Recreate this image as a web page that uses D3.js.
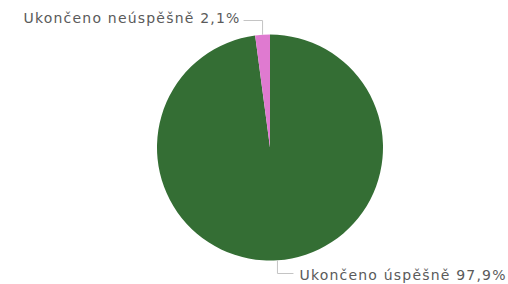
<!DOCTYPE html>
<html>
<head>
<meta charset="utf-8">
<script src="https://cdn.jsdelivr.net/npm/d3@7"></script>
<style>
  html, body { margin: 0; padding: 0; background: #fff; }
  svg { display: block; }
</style>
</head>
<body>
<svg id="chart"></svg>
<script>
(function() {
  'use strict';

  // Data
  let labels = ['Ukončeno úspěšně', 'Ukončeno neúspěšně'];
  let values = [97.9, 2.1];
  let colors = ['#346e34', '#df7ad0'];

  let width = 508;
  let height = 284;
  let cx = 270, cy = 147.5, radius = 113;

  let svg = d3.select('#chart')
    .attr('width', width)
    .attr('height', height);

  let data = labels.map((l, i) => ({ label: l, value: values[i], color: colors[i] }));

  let pie = d3.pie().sort(null).value(d => d.value);
  let arc = d3.arc().innerRadius(0).outerRadius(radius);

  let g = svg.append('g')
    .attr('transform', 'translate(' + cx + ',' + cy + ')');

  let arcs = pie(data);

  g.selectAll('path')
    .data(arcs)
    .enter()
    .append('path')
    .attr('d', arc)
    .attr('fill', d => d.data.color);

  // Leader lines + labels
  let fmt = v => d3.format('.1f')(v).replace('.', ',') + '%';

  arcs.forEach(d => {
    let mid = (d.startAngle + d.endAngle) / 2;
    let x0 = radius * Math.sin(mid);
    let y0 = -radius * Math.cos(mid);
    let top = y0 < 0;
    let y1 = top ? -(radius + 14) : (radius + 13);
    let right = !top;
    let x1 = x0 + (right ? 16 : -19);

    g.append('polyline')
      .attr('points', [[x0, y0], [x0, y1], [x1, y1]].map(p => p.join(',')).join(' '))
      .attr('fill', 'none')
      .attr('stroke', '#c4c4c4')
      .attr('stroke-width', 1);

    g.append('text')
      .attr('x', x1 + (right ? 6 : -3))
      .attr('y', y1 + (top ? 2 : 6))
      .attr('text-anchor', right ? 'start' : 'end')
      .style('font-family', 'DejaVu Sans, Verdana, sans-serif')
      .style('font-size', '14px')
      .style('letter-spacing', '1.2px')
      .style('fill', '#5a5a5a')
      .text(d.data.label + ' ' + fmt(d.data.value));
  });
})();
</script>
</body>
</html>
